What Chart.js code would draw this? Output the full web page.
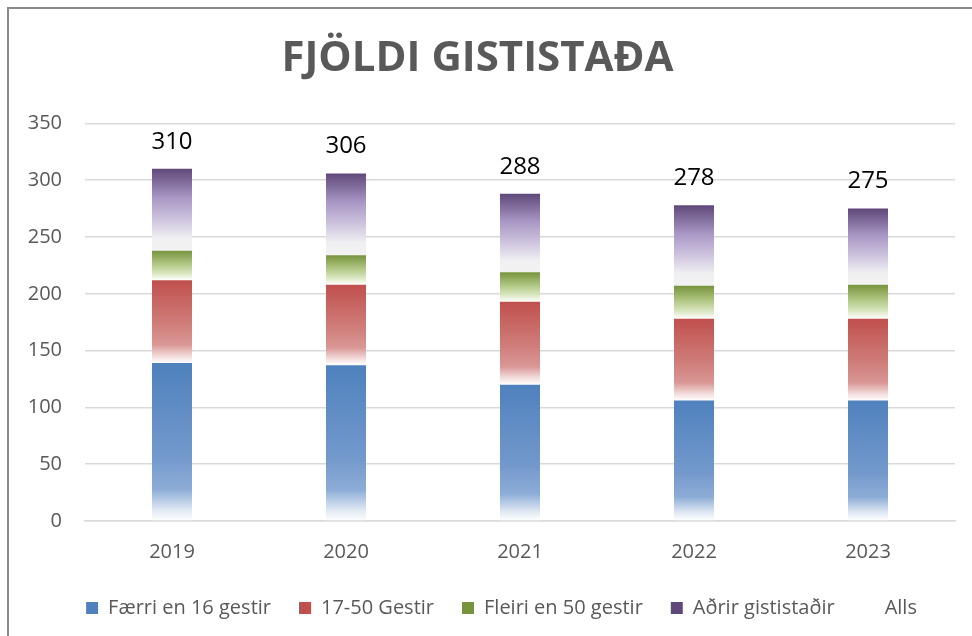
<!DOCTYPE html>
<html>
<head>
<meta charset="utf-8">
<script src="https://cdn.jsdelivr.net/npm/chart.js@4"></script>
<style>
  html, body { margin: 0; padding: 0; background: #fff; }
  #rammi { position: absolute; left: 7px; top: 7px; width: 1000px; height: 700px;
           border-left: 2px solid #8a8a8a; border-top: 2px solid #8a8a8a; }
  #wrap { position: absolute; left: 0; top: 0; width: 972px; height: 636px; }
</style>
</head>
<body>
<div id="rammi"></div>
<div id="wrap"><canvas id="graf"></canvas></div>
<script>
// Gögn lesin af myndinni
const ar = ['2019', '2020', '2021', '2022', '2023'];
const faerri16 = [139, 137, 120, 106, 106];
const gestir17_50 = [73, 71, 73, 72, 72];
const fleiri50 = [26, 26, 26, 29, 30];
const adrir = [72, 72, 69, 71, 67];
const alls = [310, 306, 288, 278, 275];
const yTicks = [0, 50, 100, 150, 200, 250, 300, 350];

const stafla = [faerri16, gestir17_50, fleiri50, adrir];

// litastig eins og í Excel (dökkt efst, hvítt neðst)
const litir = [
  [[0, '#4f81bd'], [0.6, '#7399cc'], [0.8, '#8dadd7'], [0.93, '#dfe8f3'], [1, '#ffffff']],
  [[0, '#c0504d'], [0.55, '#d07f7c'], [0.78, '#d99795'], [0.92, '#f3dedd'], [1, '#ffffff']],
  [[0, '#77933c'], [0.45, '#b1c784'], [0.75, '#d7e4bc'], [0.95, '#f7faf1'], [1, '#ffffff']],
  [[0, '#5f497a'], [0.35, '#a896c4'], [0.6, '#cbc0dc'], [0.85, '#f0f0f2'], [1, '#f2f2f2']]
];

function stigull(ds) {
  return (context) => {
    const stops = litir[ds];
    if (context.type !== 'data') return stops[0][1];
    const chart = context.chart;
    const y = chart.scales.y;
    if (!chart.chartArea || !y) return stops[0][1];
    const i = context.dataIndex;
    let botn = 0;
    for (let k = 0; k < ds; k++) botn += stafla[k][i];
    const topp = botn + stafla[ds][i];
    const y0 = y.getPixelForValue(topp);
    const y1 = y.getPixelForValue(botn);
    if (!isFinite(y0) || !isFinite(y1) || y0 === y1) return stops[0][1];
    const g = chart.ctx.createLinearGradient(0, y0, 0, y1);
    stops.forEach(([p, c]) => g.addColorStop(p, c));
    return g;
  };
}

// Plugin sem skrifar heildartöluna fyrir ofan hverja súlu
const allsMerki = {
  id: 'allsMerki',
  afterLayout(chart) {
    // færir skýringuna aðeins til hægri eins og í Excel
    if (chart.legend) {
      chart.legend.left += 24;
      chart.legend.right += 24;
    }
  },
  afterDatasetsDraw(chart) {
    const { ctx } = chart;
    const meta = chart.getDatasetMeta(4);
    ctx.save();
    ctx.font = '24px "Open Sans"';
    ctx.fillStyle = '#000000';
    ctx.textAlign = 'center';
    ctx.textBaseline = 'middle';
    meta.data.forEach((pt, i) => {
      ctx.fillText(String(alls[i]), pt.x, pt.y - 27);
    });
    ctx.restore();
  }
};

Chart.register(allsMerki);

const nofn = ['Færri en 16 gestir', '17-50 Gestir', 'Fleiri en 50 gestir', 'Aðrir gististaðir'];

new Chart(document.getElementById('graf'), {
  type: 'bar',
  data: {
    labels: ar,
    datasets: [
      ...stafla.map((gogn, k) => ({
        label: nofn[k],
        data: gogn,
        backgroundColor: stigull(k),
        borderWidth: 0,
        categoryPercentage: 0.23,
        barPercentage: 1
      })),
      {
        type: 'line',
        label: 'Alls',
        data: alls,
        stack: 'alls',
        showLine: false,
        pointRadius: 0,
        borderColor: 'rgba(0,0,0,0)',
        backgroundColor: 'rgba(0,0,0,0)'
      }
    ]
  },
  options: {
    responsive: true,
    maintainAspectRatio: false,
    animation: false,
    layout: { padding: { left: 0, right: 17, top: 0, bottom: 8 } },
    scales: {
      x: {
        stacked: true,
        afterFit(scale) { scale.height = scale.height - 13; },
        grid: { display: false, drawTicks: false },
        border: { color: '#d9d9d9', width: 1.5 },
        ticks: { color: '#595959', font: { family: 'Open Sans', size: 20 }, padding: 19 }
      },
      y: {
        stacked: true,
        min: 0,
        max: 350,
        afterBuildTicks(scale) { scale.ticks = yTicks.map(v => ({ value: v })); },
        afterFit(scale) { scale.width = 85; },
        grid: { color: '#d9d9d9', lineWidth: 1.5, drawTicks: false },
        border: { display: false },
        ticks: { color: '#595959', font: { family: 'Open Sans', size: 20 }, padding: 23 }
      }
    },
    plugins: {
      title: {
        display: true,
        text: 'FJÖLDI GISTISTAÐA',
        color: '#595959',
        font: { family: 'Open Sans', size: 42, weight: 'bold' },
        padding: { top: 34, bottom: 39 }
      },
      legend: {
        position: 'bottom',
        labels: {
          color: '#595959',
          font: { family: 'Open Sans', size: 20 },
          boxWidth: 12,
          boxHeight: 12,
          padding: 28,
          generateLabels(chart) {
            const items = Chart.defaults.plugins.legend.labels.generateLabels(chart);
            return items.map((it) => {
              const k = it.datasetIndex;
              const lit = k < 4 ? litir[k][0][1] : 'rgba(0,0,0,0)';
              it.fillStyle = lit;
              it.strokeStyle = lit;
              it.lineWidth = 0;
              return it;
            });
          }
        }
      },
      tooltip: { enabled: false }
    }
  }
});
</script>
</body>
</html>
